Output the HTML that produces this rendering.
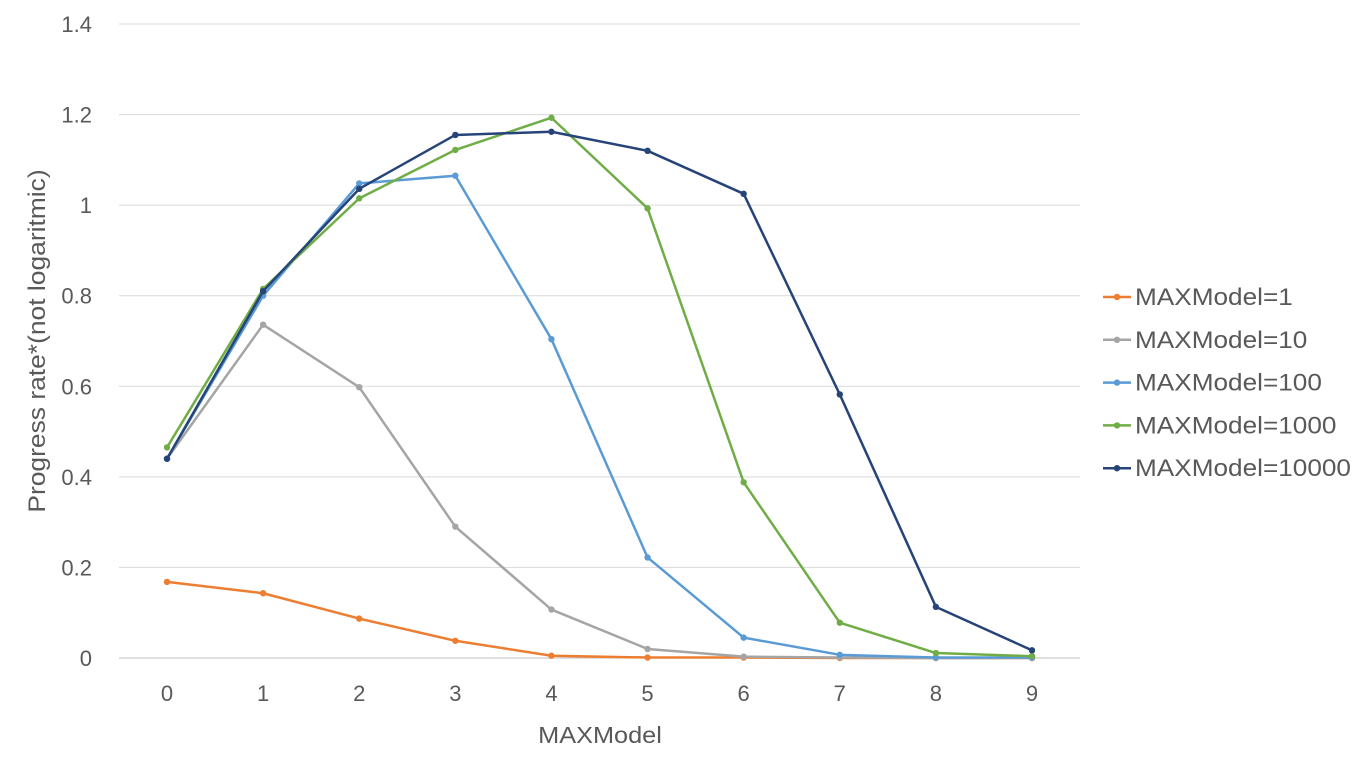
<!DOCTYPE html>
<html><head><meta charset="utf-8"><style>
html,body{margin:0;padding:0;background:#fff;}
svg{display:block;font-family:"Liberation Sans",Arial,sans-serif;}
</style></head><body>
<svg id="chart" width="1366" height="768"></svg>
<script>
const categories=[0,1,2,3,4,5,6,7,8,9];
const yTicks=[0,0.2,0.4,0.6,0.8,1,1.2,1.4];
const seriesNames=["MAXModel=1","MAXModel=10","MAXModel=100","MAXModel=1000","MAXModel=10000"];
const s1=[0.168,0.143,0.087,0.038,0.005,0.001,0.001,0,0,0];
const s10=[0.44,0.736,0.598,0.29,0.107,0.02,0.003,0.001,0,0];
const s100=[0.44,0.80,1.048,1.065,0.704,0.222,0.045,0.007,0.001,0.001];
const s1000=[0.465,0.815,1.015,1.122,1.193,0.993,0.388,0.078,0.011,0.004];
const s10000=[0.44,0.81,1.036,1.155,1.162,1.12,1.025,0.582,0.113,0.017];
const seriesValues=[s1,s10,s100,s1000,s10000];
const colors=["#ED7D31","#A5A5A5","#5B9BD5","#70AD47","#264478"];
const NS="http://www.w3.org/2000/svg";
const svg=document.getElementById("chart");
const X=i=>167+i*(1032-167)/9;
const Y=v=>658-v*(658-24)/1.4;
function mk(t,a,p){const e=document.createElementNS(NS,t);for(const k in a)e.setAttribute(k,a[k]);(p||svg).appendChild(e);return e;}
function stretch(t,f){const w=t.getComputedTextLength();t.setAttribute("textLength",w*f);t.setAttribute("lengthAdjust","spacingAndGlyphs");}
yTicks.forEach(t=>{
  const g=mk("line",{x1:119,x2:1080,y1:Y(t),y2:Y(t),stroke:t===0?"#BFBFBF":"#D9D9D9","stroke-width":1});
  
  
  const l=mk("text",{x:92,y:Y(t)+8,"text-anchor":"end","font-size":22,fill:"#595959"});
  l.textContent=String(t);
  
  
});
categories.forEach((c,i)=>{
  const l=mk("text",{x:X(i),y:701,"text-anchor":"middle","font-size":22,fill:"#595959"});
  l.textContent=String(c);
  
  
});
const xt=mk("text",{x:600,y:743,"text-anchor":"middle","font-size":23,fill:"#595959"});
xt.textContent="MAXModel";


stretch(xt,1.1);
const yt=mk("text",{x:0,y:0,"text-anchor":"middle","font-size":24,fill:"#595959",transform:"translate(45,341) rotate(-90)"});
yt.textContent="Progress rate*(not logaritmic)";


stretch(yt,1.1);
seriesValues.forEach((vals,si)=>{
  const g=mk("g",{});
  
  
  const pts=vals.map((v,i)=>X(i)+","+Y(v)).join(" ");
  const pl=mk("polyline",{points:pts,fill:"none",stroke:colors[si],"stroke-width":2.5,"stroke-linejoin":"round"},g);
  
  
  vals.forEach((v,i)=>{
    const c=mk("circle",{cx:X(i),cy:Y(v),r:3.2,fill:colors[si]},g);
    
    
  });
  const ly=297+si*42.8;
  const lg=mk("g",{});
  
  
  mk("line",{x1:1103,x2:1131,y1:ly,y2:ly,stroke:colors[si],"stroke-width":2.5},lg);
  mk("circle",{cx:1117,cy:ly,r:3.2,fill:colors[si]},lg);
  const t=mk("text",{x:1135,y:ly+8,"font-size":24,fill:"#595959"},lg);
  t.textContent=seriesNames[si];
  stretch(t,1.09);
});
</script>
</body></html>
